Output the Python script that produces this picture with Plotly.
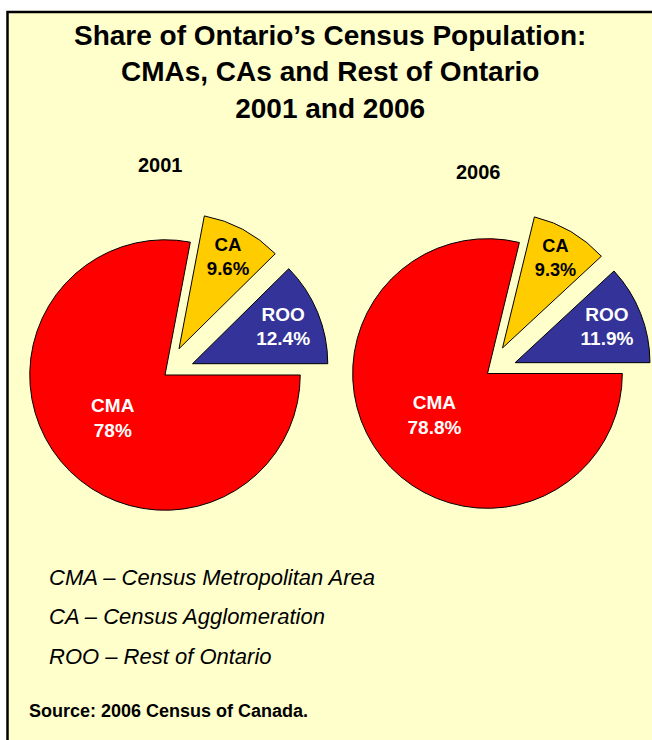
import plotly.graph_objects as go

# ---- data ----
categories = ["CMA", "CA", "ROO"]
share_2001 = [78.0, 9.6, 12.4]
share_2006 = [78.8, 9.3, 11.9]
years = ["2001", "2006"]
title_lines = ["Share of Ontario’s Census Population:", "CMAs, CAs and Rest of Ontario", "2001 and 2006"]
legend_lines = ["CMA – Census Metropolitan Area", "CA – Census Agglomeration", "ROO – Rest of Ontario"]
source_text = "Source: 2006 Census of Canada."

W, H = 652, 740
colors = ["#FF0000", "#FFCC00", "#333399"]
text_colors = ["white", "black", "white"]
pulls = [0, 0.22, 0.22]
FONT = "Arial, Liberation Sans, sans-serif"


def px_x(x):
    return x / W


def px_y(y):
    return 1 - y / H


fig = go.Figure()

domains = [
    dict(x=[px_x(0), px_x(330)], y=[px_y(540), px_y(210)]),
    dict(x=[px_x(323), px_x(652)], y=[px_y(538.5), px_y(208.5)]),
]

for vals, dom in zip([share_2001, share_2006], domains):
    fig.add_trace(go.Pie(
        labels=categories,
        values=vals,
        text=[f"{c}<br>{v:g}%" for c, v in zip(categories, vals)],
        textinfo="text",
        textposition="inside",
        insidetextorientation="horizontal",
        insidetextfont=dict(family=FONT, size=19, color=text_colors, weight="bold"),
        marker=dict(colors=colors, line=dict(color="black", width=1)),
        pull=pulls,
        sort=False,
        direction="clockwise",
        rotation=90,
        domain=dom,
        hoverinfo="skip",
        showlegend=False,
    ))

# background panel
fig.add_shape(type="rect", xref="paper", yref="paper",
              x0=px_x(7.5), x1=1.05, y0=-0.05, y1=px_y(12),
              fillcolor="#FFFFCC", line=dict(color="black", width=2.5), layer="below")

annotations = []
annotations.append(dict(text="<br>".join(title_lines), x=px_x(330), y=px_y(72),
                        xref="paper", yref="paper", xanchor="center", yanchor="middle",
                        showarrow=False, font=dict(family=FONT, size=28, color="black", weight="bold")))
for yr, (xc, yc) in zip(years, [(160, 165), (478, 172)]):
    annotations.append(dict(text=yr, x=px_x(xc), y=px_y(yc), xref="paper", yref="paper",
                            xanchor="center", yanchor="middle", showarrow=False,
                            font=dict(family=FONT, size=20, color="black", weight="bold")))
for txt, yc in zip(legend_lines, [577, 616, 656]):
    annotations.append(dict(text=txt, x=px_x(47), y=px_y(yc), xref="paper", yref="paper",
                            xanchor="left", yanchor="middle", showarrow=False,
                            font=dict(family=FONT, size=22, color="black", style="italic")))
annotations.append(dict(text=source_text, x=px_x(27), y=px_y(711), xref="paper", yref="paper",
                        xanchor="left", yanchor="middle", showarrow=False,
                        font=dict(family=FONT, size=18, color="black", weight="bold")))

fig.update_layout(
    width=W, height=H,
    margin=dict(l=0, r=0, t=0, b=0),
    paper_bgcolor="white",
    plot_bgcolor="white",
    annotations=annotations,
)

fig.write_html("out.html",
               config={"displayModeBar": False},
               post_script="document.body.style.margin='0';document.body.style.overflow='hidden';")
